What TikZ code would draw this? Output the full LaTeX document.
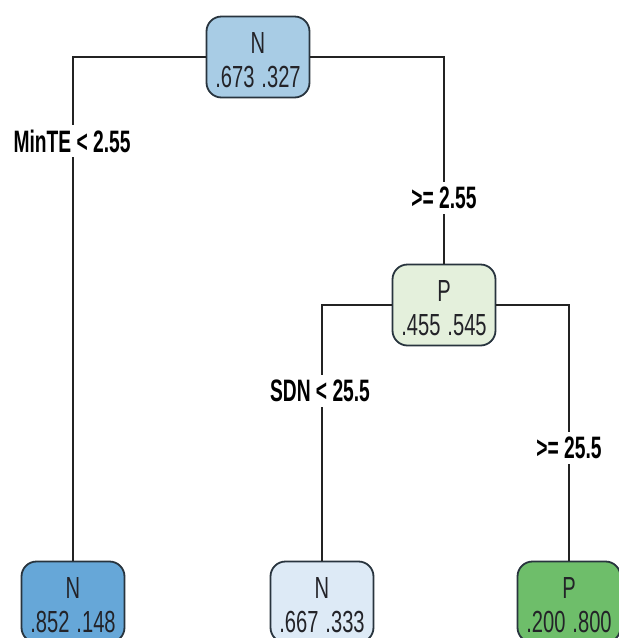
\documentclass[tikz,border=0pt]{standalone}
\usepackage{fontspec}
\setmainfont{Liberation Sans}[FakeStretch=0.66]
\newfontfamily\labfont{Liberation Sans}[FakeStretch=0.62]
\definecolor{bord}{RGB}{40,52,62}
\definecolor{edgec}{RGB}{35,35,35}
\definecolor{txtc}{RGB}{35,35,40}
\definecolor{rootc}{RGB}{168,204,229}
\definecolor{pc}{RGB}{228,240,220}
\definecolor{lc}{RGB}{102,167,216}
\definecolor{mc}{RGB}{221,234,246}
\definecolor{rc}{RGB}{110,190,106}
\tikzset{
  box/.style={draw=bord, line width=1.8pt, rounded corners=15pt, minimum width=103pt, minimum height=81pt, inner sep=0pt},
  txt/.style={text=txtc, font=\fontsize{30.5}{32}\selectfont, inner sep=0pt, anchor=base},
  edge/.style={draw=edgec, line width=1.3pt},
  lab/.style={fill=white, text=black, font=\labfont\fontsize{31}{33}\selectfont\bfseries, inner sep=5pt}
}
\begin{document}
\begin{tikzpicture}[x=1pt,y=-1pt]
\useasboundingbox[fill=white] (0,0) rectangle (619,638);
% boxes
\node[box, fill=rootc] (root) at (258,57) {};
\node[box, fill=pc] (P) at (444,305) {};
\node[box, fill=lc] (L) at (73,602) {};
\node[box, fill=mc] (M) at (322,602) {};
\node[box, fill=rc] (R) at (569,602) {};
% edges
\draw[edge] (root.west) -| (L.north);
\draw[edge] (root.east) -| (P.north);
\draw[edge] (P.west) -| (M.north);
\draw[edge] (P.east) -| (R.north);
% labels
\node[lab] (l1) at (72,141) {MinTE < 2.55};
\node[lab] (l2) at (444,198) {>= 2.55};
\node[lab] (l3) at (320,391) {SDN < 25.5};
\node[lab] (l4) at (569,448) {>= 25.5};
% box texts
\node[txt] (rootA) at (258,53) {N};
\node[txt] (rootB) at (258,87) {.673\hspace{7pt}.327};
\node[txt] (PA) at (444,301) {P};
\node[txt] (PB) at (444,335) {.455\hspace{7pt}.545};
\node[txt] (LA) at (73,598) {N};
\node[txt] (LB) at (73,632) {.852\hspace{7pt}.148};
\node[txt] (MA) at (322,598) {N};
\node[txt] (MB) at (322,632) {.667\hspace{7pt}.333};
\node[txt] (RA) at (569,598) {P};
\node[txt] (RB) at (569,632) {.200\hspace{7pt}.800};
\end{tikzpicture}
\end{document}
